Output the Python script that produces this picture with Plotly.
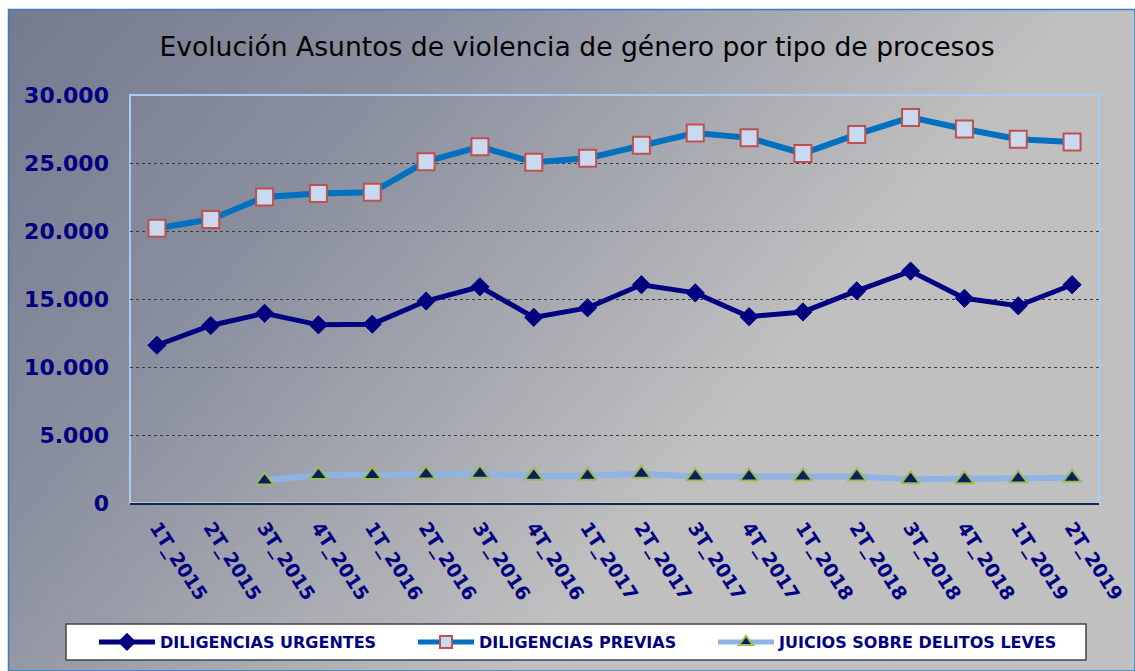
import base64
import plotly.graph_objects as go

categories = ["1T_2015", "2T_2015", "3T_2015", "4T_2015",
              "1T_2016", "2T_2016", "3T_2016", "4T_2016",
              "1T_2017", "2T_2017", "3T_2017", "4T_2017",
              "1T_2018", "2T_2018", "3T_2018", "4T_2018",
              "1T_2019", "2T_2019"]

diligencias_urgentes = [11600, 13050, 13950, 13100, 13150, 14850, 15900, 13650,
                        14350, 16050, 15450, 13700, 14050, 15600, 17050, 15050,
                        14500, 16050]

diligencias_previas = [20200, 20850, 22500, 22750, 22850, 25100, 26200, 25050,
                       25350, 26300, 27200, 26850, 25700, 27100, 28350, 27500,
                       26750, 26550]

juicios_delitos_leves = [None, None, 1650, 2050, 2050, 2100, 2150, 2000,
                         2000, 2150, 1950, 1950, 1950, 1950, 1750, 1750,
                         1800, 1850]

series_names = ["DILIGENCIAS URGENTES", "DILIGENCIAS PREVIAS",
                "JUICIOS SOBRE DELITOS LEVES"]

title_text = "Evolución Asuntos de violencia de género por tipo de procesos"
y_ticks = [0, 5000, 10000, 15000, 20000, 25000, 30000]

W, H = 1135, 671
FONT = "DejaVu Sans"
NAVY = "#000080"

def px_x(v):
    return v / W

def px_y(v):
    return 1 - v / H

# background gradient as an SVG image
svg = (
    "<svg xmlns='http://www.w3.org/2000/svg' width='1127' height='662' "
    "preserveAspectRatio='none' viewBox='0 0 1127 662'>"
    "<defs><linearGradient id='g' x1='0' y1='0' x2='0.9' y2='0.45'>"
    "<stop offset='0' stop-color='#747b8f'/>"
    "<stop offset='0.35' stop-color='#8a8f9f'/>"
    "<stop offset='0.85' stop-color='#c0c0c0'/>"
    "<stop offset='1' stop-color='#c0c0c0'/>"
    "</linearGradient></defs>"
    "<rect x='0' y='0' width='1127' height='662' fill='url(#g)'/></svg>"
)
svg_uri = "data:image/svg+xml;base64," + base64.b64encode(svg.encode()).decode()

fig = go.Figure()

fig.add_trace(go.Scatter(
    x=categories, y=diligencias_urgentes, name=series_names[0],
    mode="lines+markers", legend="legend",
    line=dict(color=NAVY, width=5),
    marker=dict(symbol="diamond", size=14, color=NAVY,
                line=dict(color=NAVY, width=1)),
))
fig.add_trace(go.Scatter(
    x=categories, y=diligencias_previas, name=series_names[1],
    mode="lines+markers", legend="legend2",
    line=dict(color="#0070c0", width=6),
    marker=dict(symbol="square", size=17, color="#c9daf0",
                line=dict(color="#c0504d", width=2)),
))
fig.add_trace(go.Scatter(
    x=categories, y=juicios_delitos_leves, name=series_names[2],
    mode="lines+markers", legend="legend3",
    line=dict(color="#8db4e2", width=6),
    marker=dict(symbol="triangle-up", size=16, color="#0a1f5c",
                line=dict(color="#9bbb59", width=2)),
))

x0, x1 = px_x(130), px_x(1099)
y0, y1 = px_y(503), px_y(95)

def legend_at(px):
    return dict(
        orientation="h", x=px_x(px), xanchor="left",
        y=px_y(642), yanchor="middle",
        bgcolor="rgba(0,0,0,0)", borderwidth=0,
        font=dict(family=FONT, size=16, color=NAVY, weight="bold"),
        itemwidth=56, itemsizing="constant",
    )

fig.update_layout(
    width=W, height=H,
    margin=dict(l=0, r=0, t=0, b=0, autoexpand=False),
    paper_bgcolor="white",
    plot_bgcolor="rgba(0,0,0,0)",
    separators=",.",
    showlegend=True,
    font=dict(family=FONT, color=NAVY),
    title=dict(text=title_text, x=577 / W, xanchor="center",
               y=px_y(47), yanchor="middle",
               font=dict(family=FONT, size=26.6, color="black")),
    xaxis=dict(
        domain=[x0, x1], type="category", range=[-0.5, 17.5],
        showgrid=False, tickangle=57, automargin=False,
        tickfont=dict(family=FONT, size=19, color=NAVY, weight="bold"),
        showline=True, linecolor="#1c2440", linewidth=2,
        ticks="", ticklabelstandoff=4,
    ),
    yaxis=dict(
        domain=[y0, y1], range=[0, 30000], tickvals=y_ticks,
        tickformat=",.0f", automargin=False,
        showgrid=True, gridcolor="#3a3a3a", gridwidth=1, griddash="dot",
        zeroline=False,
        tickfont=dict(family=FONT, size=22, color=NAVY, weight="bold"),
        ticks="", ticklabelstandoff=20, showline=False,
    ),
    legend=legend_at(94),
    legend2=legend_at(413),
    legend3=legend_at(713),
    images=[dict(source=svg_uri, xref="paper", yref="paper",
                 x=px_x(8), y=px_y(9), sizex=1 - px_x(8), sizey=px_y(9),
                 xanchor="left", yanchor="top", sizing="stretch",
                 layer="below")],
    shapes=[
        # outer chart frame
        dict(type="rect", xref="paper", yref="paper",
             x0=px_x(8.5), x1=1.0, y0=0.0, y1=px_y(9.5),
             line=dict(color="#3b7dc0", width=1.5), layer="below"),
        # plot area border (light blue)
        dict(type="rect", xref="paper", yref="paper",
             x0=x0, x1=x1, y0=y0, y1=y1,
             line=dict(color="#a9cdf2", width=2), layer="below"),
        # legend box
        dict(type="rect", xref="paper", yref="paper",
             x0=px_x(66), x1=px_x(1086), y0=px_y(660), y1=px_y(624),
             line=dict(color="#444444", width=1.5), fillcolor="white",
             layer="below"),
    ],
)

fig.write_html(
    "out.html",
    config={"displayModeBar": False},
    post_script="document.body.style.margin='0';"
                "document.body.style.overflow='hidden';",
)
